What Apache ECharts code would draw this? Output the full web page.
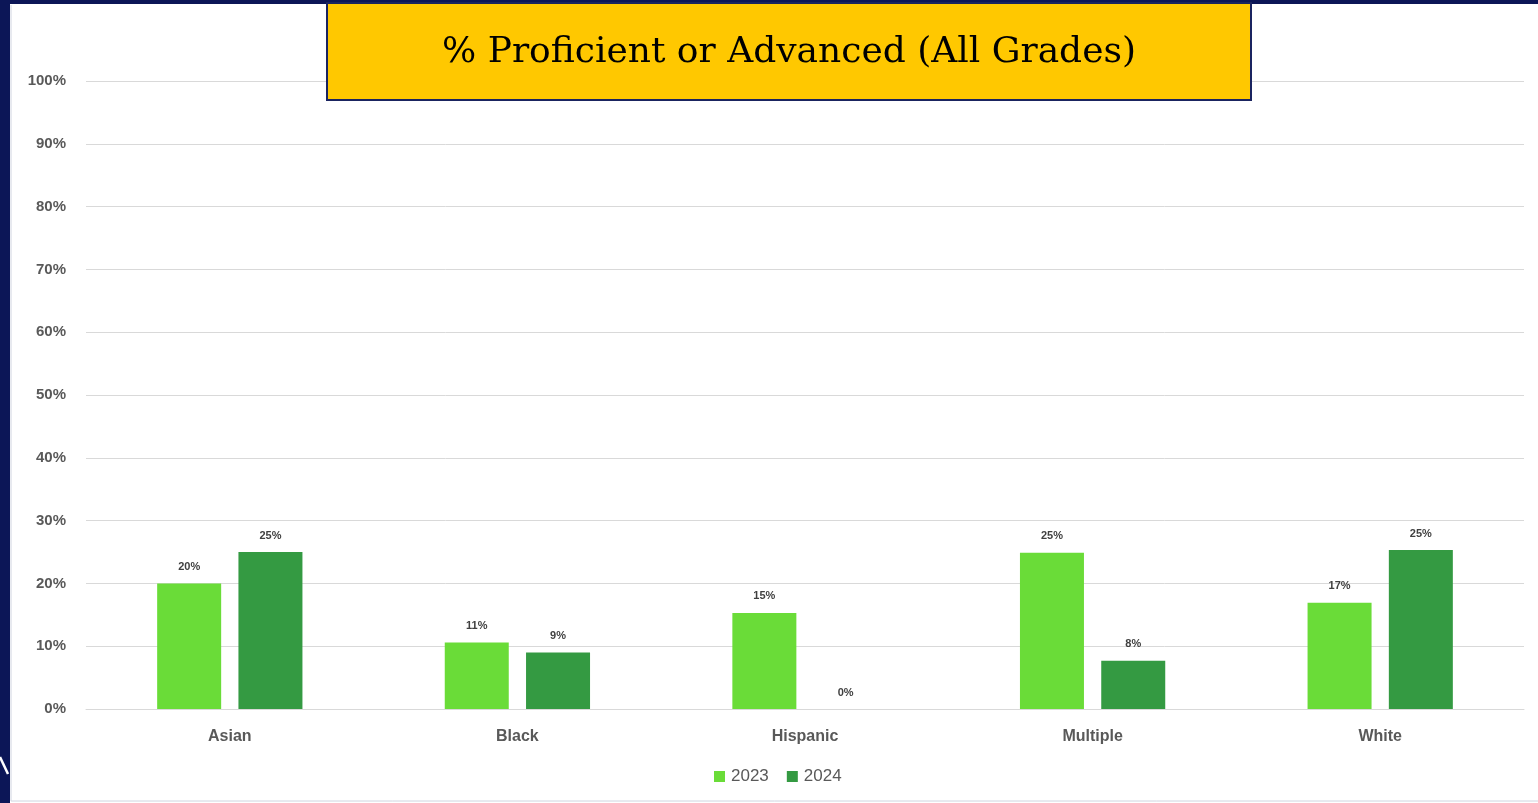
<!DOCTYPE html>
<html>
<head>
<meta charset="utf-8">
<script src="https://cdn.jsdelivr.net/npm/echarts@6/dist/echarts.min.js"></script>
<style>
html,body{margin:0;padding:0;background:#fff;}
#chart{width:1538px;height:803px;}
</style>
</head>
<body>
<div id="chart"></div>
<script>
var categories = ['Asian', 'Black', 'Hispanic', 'Multiple', 'White'];
var values2023 = [20, 10.6, 15.3, 24.9, 16.9];
var values2024 = [25, 9, 0, 7.7, 25.3];
var seriesNames = ['2023', '2024'];
var titleText = '% Proficient or Advanced (All Grades)';

var chart = echarts.init(document.getElementById('chart'));
var labelStyle = {
  show: true, position: 'top', distance: 11,
  fontFamily: 'Liberation Sans', fontWeight: 'bold', fontSize: 11, color: '#404040',
  formatter: function (p) { return Math.round(p.value) + '%'; }
};
chart.setOption({
  animation: false,
  backgroundColor: '#ffffff',
  grid: { left: 86, right: 14, top: 81, bottom: 94 },
  legend: {
    data: seriesNames, left: 714, top: 768, padding: 0, itemWidth: 11, itemHeight: 11, itemGap: 18,
    icon: 'rect',
    textStyle: { fontFamily: 'Liberation Sans', fontSize: 17, color: '#595959', padding: [0, 0, 0, 1] }
  },
  xAxis: {
    type: 'category', data: categories,
    axisLine: { lineStyle: { color: '#d9d9d9' } },
    axisTick: { show: false },
    axisLabel: { margin: 20, fontFamily: 'Liberation Sans', fontWeight: 'bold', fontSize: 16, color: '#595959' }
  },
  yAxis: {
    type: 'value', min: 0, max: 100, interval: 10,
    axisLabel: { formatter: '{value}%', margin: 20, fontFamily: 'Liberation Sans', fontWeight: 'bold', fontSize: 15, color: '#595959' },
    splitLine: { lineStyle: { color: '#d9d9d9', width: 1 } },
    axisLine: { show: false }, axisTick: { show: false }
  },
  series: [
    { name: seriesNames[0], type: 'bar', data: values2023, barWidth: 64, barGap: '27%',
      itemStyle: { color: '#6ADC38' }, label: labelStyle },
    { name: seriesNames[1], type: 'bar', data: values2024, barWidth: 64,
      itemStyle: { color: '#349A42' }, label: labelStyle }
  ],
  graphic: [
    { type: 'rect', shape: { x: 0, y: 0, width: 10, height: 803 }, style: { fill: '#0C1657' }, z: 100 },
    { type: 'rect', shape: { x: 0, y: 0, width: 1538, height: 4 }, style: { fill: '#0C1657' }, z: 100 },
    { type: 'line', shape: { x1: 11, y1: 5, x2: 11, y2: 801 }, style: { stroke: '#d0d4e0', lineWidth: 1 }, z: 100 },
    { type: 'line', shape: { x1: 11, y1: 801, x2: 1538, y2: 801 }, style: { stroke: '#d0d4e0', lineWidth: 1 }, z: 100 },
    { type: 'polyline', shape: { points: [[0, 757], [8, 774]] }, style: { stroke: '#ffffff', lineWidth: 2.5 }, z: 101 },
    { type: 'rect', shape: { x: 327, y: 3, width: 924, height: 97 },
      style: { fill: '#FFC800', stroke: '#1A2460', lineWidth: 2 }, z: 110 },
    { type: 'text', x: 789, y: 53, z: 111,
      style: { text: titleText, fill: '#000000', font: '36px "DejaVu Serif"', textAlign: 'center', textVerticalAlign: 'middle' } }
  ]
});
</script>
</body>
</html>
